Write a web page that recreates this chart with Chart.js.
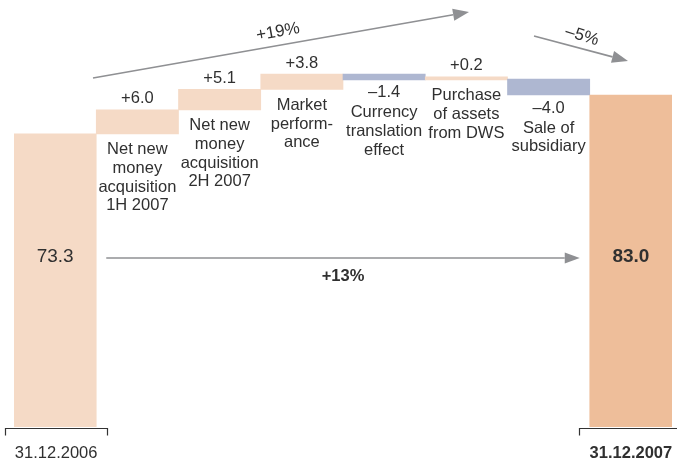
<!DOCTYPE html>
<html>
<head>
<meta charset="utf-8">
<script src="https://cdn.jsdelivr.net/npm/chart.js@4.4.1/dist/chart.umd.min.js"></script>
<style>
  html, body { margin: 0; padding: 0; background: #fff; }
  #wrap { position: relative; width: 677px; height: 465px; }
</style>
</head>
<body>
<div id="wrap"><canvas id="chart"></canvas></div>
<script>
// valori (mld EUR)
const startLabel = "31.12.2006";
const endLabel = "31.12.2007";
const startValue = 73.3;
const endValue = 83.0;
const changes = [6.0, 5.1, 3.8, -1.4, 0.2, -4.0];
const changeLabels = [
  ["Net new", "money", "acquisition", "1H 2007"],
  ["Net new", "money", "acquisition", "2H 2007"],
  ["Market", "perform-", "ance"],
  ["Currency", "translation", "effect"],
  ["Purchase", "of assets", "from DWS"],
  ["Sale of", "subsidiary"]
];
const growthLabel = "+19%";
const dropLabel = "\u20135%";
const totalLabel = "+13%";

// colori
const peach = "#F5DAC6";
const peachDark = "#EEBE9A";
const blueGrey = "#AEB7D1";
const textColor = "#303030";
const arrowColor = "#8f9093";
const FONT = '"Liberation Sans", Arial, sans-serif';

// barre flottanti: [base, cima]
const bars = [[0, startValue]];
const colors = [peach];
let running = startValue;
changes.forEach(c => {
  bars.push([running, +(running + c).toFixed(1)]);
  colors.push(c >= 0 ? peach : blueGrey);
  running = +(running + c).toFixed(1);
});
bars.push([0, endValue]);
colors.push(peachDark);

const categories = [startLabel, ...changeLabels.map(l => l.join(" ")), endLabel];

const fmt = v => (v >= 0 ? "+" : "\u2013") + Math.abs(v).toFixed(1);

function arrow(ctx, x1, y1, x2, y2, head, halfW) {
  const a = Math.atan2(y2 - y1, x2 - x1);
  const bx = x2 - head * Math.cos(a), by = y2 - head * Math.sin(a);
  ctx.strokeStyle = arrowColor;
  ctx.fillStyle = arrowColor;
  ctx.lineWidth = 1.6;
  ctx.beginPath();
  ctx.moveTo(x1, y1);
  ctx.lineTo(bx, by);
  ctx.stroke();
  ctx.beginPath();
  ctx.moveTo(x2, y2);
  ctx.lineTo(bx + halfW * Math.sin(a), by - halfW * Math.cos(a));
  ctx.lineTo(bx - halfW * Math.sin(a), by + halfW * Math.cos(a));
  ctx.closePath();
  ctx.fill();
}

function rotatedText(ctx, text, x, y, angle) {
  ctx.save();
  ctx.translate(x, y);
  ctx.rotate(angle);
  ctx.fillText(text, 0, 0);
  ctx.restore();
}

const annotations = {
  id: "annotations",
  afterDatasetsDraw(chart) {
    const ctx = chart.ctx;
    const meta = chart.getDatasetMeta(0).data;
    const area = chart.chartArea;
    ctx.save();
    ctx.textAlign = "center";
    ctx.textBaseline = "middle";
    ctx.fillStyle = textColor;

    // etichette delle variazioni
    changes.forEach((c, i) => {
      const el = meta[i + 1];
      const top = Math.min(el.y, el.base);
      const bottom = Math.max(el.y, el.base);
      ctx.font = "16.5px " + FONT;
      ctx.fillStyle = textColor;
      let y;
      if (c >= 0) {
        ctx.fillText(fmt(c), el.x, top - 11);
        y = bottom + 16;
      } else {
        ctx.fillText(fmt(c), el.x, bottom + 13);
        y = bottom + 33;
      }
      changeLabels[i].forEach((line, k) => {
        ctx.fillText(line, el.x, y + k * 18.7);
      });
    });

    // valori iniziale e finale
    const first = meta[0], last = meta[meta.length - 1];
    const midY = 257;
    ctx.font = "19px " + FONT;
    ctx.fillText(startValue.toFixed(1), first.x, midY);
    ctx.font = "bold 19px " + FONT;
    ctx.fillText(endValue.toFixed(1), last.x, midY);

    // freccia +13%
    arrow(ctx, first.x + first.width / 2 + 10, midY + 1, last.x - last.width / 2 - 10, midY + 1, 15, 5.5);
    ctx.fillStyle = textColor;
    ctx.font = "bold 16.5px " + FONT;
    ctx.fillText(totalLabel, (first.x + last.x) / 2, midY + 19);

    // freccia +19%
    arrow(ctx, 93, 78, 469, 12, 16, 6);
    ctx.fillStyle = textColor;
    ctx.font = "17px " + FONT;
    rotatedText(ctx, growthLabel, 278, 32, -0.18);

    // freccia -5%
    arrow(ctx, 534, 36, 628, 61, 16, 6);
    ctx.fillStyle = textColor;
    rotatedText(ctx, dropLabel, 582, 36, 0.3);

    // staffe e date sull'asse
    const yb = area.bottom + 1.5;
    ctx.strokeStyle = "#333";
    ctx.lineWidth = 1.2;
    ctx.beginPath();
    ctx.moveTo(5.5, yb + 7);
    ctx.lineTo(5.5, yb);
    ctx.lineTo(107.5, yb);
    ctx.lineTo(107.5, yb + 7);
    ctx.moveTo(579.5, yb + 7);
    ctx.lineTo(579.5, yb);
    ctx.lineTo(677, yb);
    ctx.stroke();

    ctx.fillStyle = textColor;
    ctx.font = "16.5px " + FONT;
    ctx.fillText(startLabel, first.x + 1, 453);
    ctx.font = "bold 16.5px " + FONT;
    ctx.fillText(endLabel, last.x, 453);
    ctx.restore();
  }
};

const config = {
  type: "bar",
  data: {
    labels: categories,
    datasets: [
      {
        data: bars,
        backgroundColor: colors,
        borderWidth: 0,
        barPercentage: 1,
        categoryPercentage: 1,
        minBarLength: 3,
      },
    ],
  },
  options: {
    responsive: true,
    maintainAspectRatio: false,
    animation: false,
    layout: { padding: { left: 14, right: 5, top: 27, bottom: 38 } },
    scales: {
      x: { display: false },
      y: { display: false, min: 0, max: 100 },
    },
    plugins: {
      legend: { display: false },
      tooltip: { enabled: false },
    },
  },
  plugins: [annotations],
};

const ctx = document.getElementById("chart").getContext("2d");
const chart = new Chart(ctx, config);
</script>
</body>
</html>
